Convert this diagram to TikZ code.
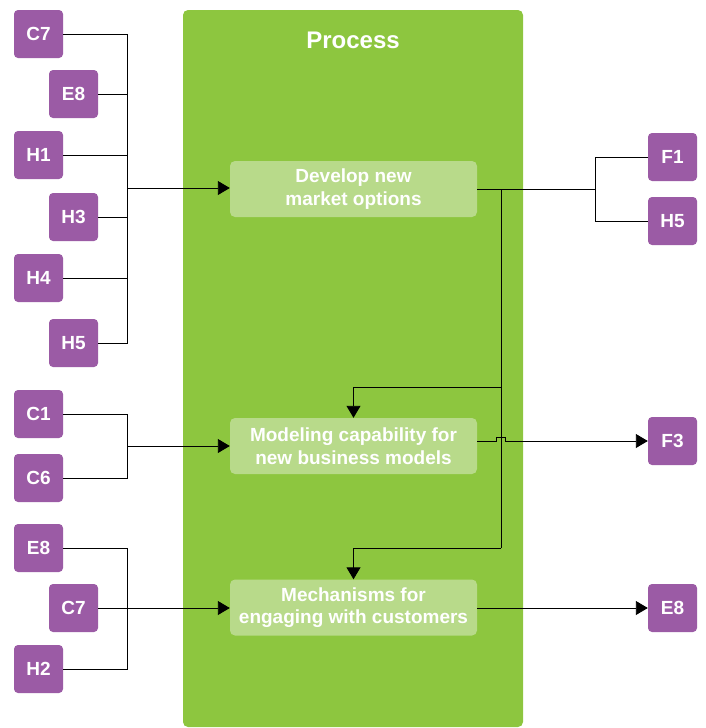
\documentclass[tikz,border=0pt]{standalone}
\usepackage{fontspec}
\setmainfont{Liberation Sans}
\usetikzlibrary{arrows.meta}
\definecolor{panelgreen}{HTML}{8DC63F}
\definecolor{boxgreen}{HTML}{B8DA8A}
\definecolor{tagpurple}{HTML}{9B5BA5}
\begin{document}
\begin{tikzpicture}[x=1pt,y=-1pt,
  tag/.style={fill=tagpurple, rounded corners=4pt, minimum width=49pt, minimum height=48pt, inner sep=0pt, text=white, font=\bfseries\fontsize{19}{22}\selectfont},
  procbox/.style={fill=boxgreen, rounded corners=5pt, minimum width=247pt, minimum height=56pt, inner sep=0pt, text=white, align=center, font=\bfseries\fontsize{19}{22.5}\selectfont},
  conn/.style={draw=black, line width=0.9pt},
  arr/.style={conn, -{Triangle[length=12pt,width=14pt]}}]
\useasboundingbox (0,0) rectangle (705,728);
\fill[panelgreen, rounded corners=5pt] (183,10) rectangle (523,727);
\node[text=white, font=\bfseries\fontsize{24}{28}\selectfont] (title) at (353,40) {Process};
% process boxes
\node[procbox] (p1) at (353.5,189) {Develop new\\market options};
\node[procbox] (p2) at (353.5,446) {Modeling capability for\\new business models};
\node[procbox] (p3) at (353.5,607.5) {Mechanisms for\\engaging with customers};
% left group 1
\node[tag] (a1) at (38.5,34) {C7};
\node[tag] (a2) at (73.5,94) {E8};
\node[tag] (a3) at (38.5,155) {H1};
\node[tag] (a4) at (73.5,217) {H3};
\node[tag] (a5) at (38.5,278) {H4};
\node[tag] (a6) at (73.5,343) {H5};
% left group 2
\node[tag] (b1) at (38.5,414) {C1};
\node[tag] (b2) at (38.5,478) {C6};
% left group 3
\node[tag] (c1) at (38.5,548) {E8};
\node[tag] (c2) at (73.5,608) {C7};
\node[tag] (c3) at (38.5,669) {H2};
% right
\node[tag] (r1) at (672.5,157) {F1};
\node[tag] (r2) at (672.5,221) {H5};
\node[tag] (r3) at (672.5,441) {F3};
\node[tag] (r4) at (672.5,608) {E8};
% coordinates
\coordinate (bus1) at (127,188);
\coordinate (bus2) at (127,446);
\coordinate (rbus) at (595,189);
\coordinate (vtop) at (501,189);
\coordinate (vbot) at (501,548);
% group 1 connectors
\draw[conn] (a1.east) -| (127,343) -- (a6.east);
\draw[conn] (a2.east) -- (a2.east -| bus1);
\draw[conn] (a3.east) -- (a3.east -| bus1);
\draw[conn] (a4.east) -- (a4.east -| bus1);
\draw[conn] (a5.east) -- (a5.east -| bus1);
\draw[arr] (bus1) -- (p1.west |- bus1);
% group 2
\draw[conn] (b1.east) -| (127,478) -- (b2.east);
\draw[arr] (bus2) -- (p2.west);
% group 3
\draw[conn] (c1.east) -| (127,669) -- (c3.east);
\draw[arr] (c2.east) -- (p3.west |- c2.east);
% right of p1
\draw[conn] (p1.east) -- (rbus);
\draw[conn] (r1.west) -| (595,221) -- (r2.west);
% vertical down
\draw[conn] (vtop) -- (vbot);
\draw[arr] (501,387) -| (p2.north);
\draw[arr] (vbot) -| (p3.north);
% p2 to F3 with jump
\draw[arr] (p2.east |- r3.west) -- (496.5,441) -- (496.5,437) -- (505.5,437) -- (505.5,441) -- (r3.west);
% p3 to E8
\draw[arr] (p3.east |- r4.west) -- (r4.west);
\end{tikzpicture}
\end{document}
